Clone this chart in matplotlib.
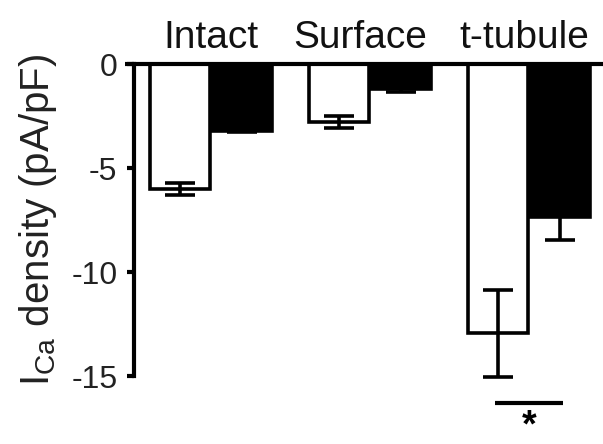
import numpy as np
import matplotlib
matplotlib.use('Agg')
import matplotlib.pyplot as plt

plt.rcParams['font.family'] = ['Liberation Sans', 'DejaVu Sans']
plt.rcParams['mathtext.fontset'] = 'custom'
plt.rcParams['mathtext.rm'] = 'Liberation Sans'
plt.rcParams['mathtext.bf'] = 'Liberation Sans:bold'

# 数据
groups = ['Intact', 'Surface', 't-tubule']
open_vals = [-6.0, -2.8, -12.95]
open_err = [0.3, 0.3, 2.1]
filled_vals = [-3.2, -1.2, -7.35]
filled_err = [0.08, 0.15, 1.1]
yticks = [0, -5, -10, -15]

W, H = 603, 444
fig = plt.figure(figsize=(W / 100, H / 100), dpi=100)

# 坐标轴位置（像素换算）
ax_left, ax_right = 134, 603
ax_top, ax_bot = 64, 444
ax = fig.add_axes([ax_left / W, 1 - ax_bot / H, (ax_right - ax_left) / W, (ax_bot - ax_top) / H])

px_per_unit = 20.8
ax.set_ylim(-(ax_bot - ax_top) / px_per_unit, 0)
x0 = 211
gap = 159
ax.set_xlim((ax_left - x0) / gap, (ax_right - x0) / gap)

x = np.arange(len(groups))
bw = 0.38
off = 0.195
lw = 2.6

ax.bar(x - off, open_vals, bw, color='white', edgecolor='black', linewidth=lw, zorder=2)
ax.bar(x + off, filled_vals, bw, color='black', edgecolor='black', linewidth=lw, zorder=2)
ax.errorbar(x - off, open_vals, yerr=open_err, fmt='none', ecolor='black',
            elinewidth=lw, capsize=11, capthick=lw, zorder=3)
ax.errorbar(x + off, filled_vals, yerr=filled_err, fmt='none', ecolor='black',
            elinewidth=lw, capsize=11, capthick=lw, zorder=3)

# 零线（向左延伸过纵轴）
ax.plot([-0.019, 1], [1, 1], transform=ax.transAxes, color='black', lw=3,
        clip_on=False, solid_capstyle='butt', zorder=4)

for s in ['top', 'right', 'bottom']:
    ax.spines[s].set_visible(False)
ax.spines['left'].set_linewidth(3)
ax.spines['left'].set_bounds(-15, 0)
ax.set_xticks([])
ax.set_yticks(yticks)
ax.set_yticklabels([str(t) for t in yticks], fontsize=23, color='#222222')
ax.tick_params(axis='y', length=5, width=3, pad=7)

# 组名
label_x = [0, (360 - x0) / gap, (524 - x0) / gap]
for xi, g in zip(label_x, groups):
    ax.text(xi, 0.77, g, ha='center', va='baseline', fontsize=28, color='#111111', clip_on=False)

# 纵轴标题
fig.text(38 / W, 1 - 220 / H, '$\\mathregular{I_{Ca}}$ density (pA/pF)', rotation=90,
         ha='center', va='center', fontsize=29, color='#222222')

# 显著性标记
ax.plot([2 - 0.214, 2 + 0.214], [-16.3, -16.3], color='black', lw=3, solid_capstyle='butt')
ax.text(2, -18.25, '$\\mathbf{*}$', ha='center', va='bottom', fontsize=27)

fig.savefig('out.png', dpi=100)
